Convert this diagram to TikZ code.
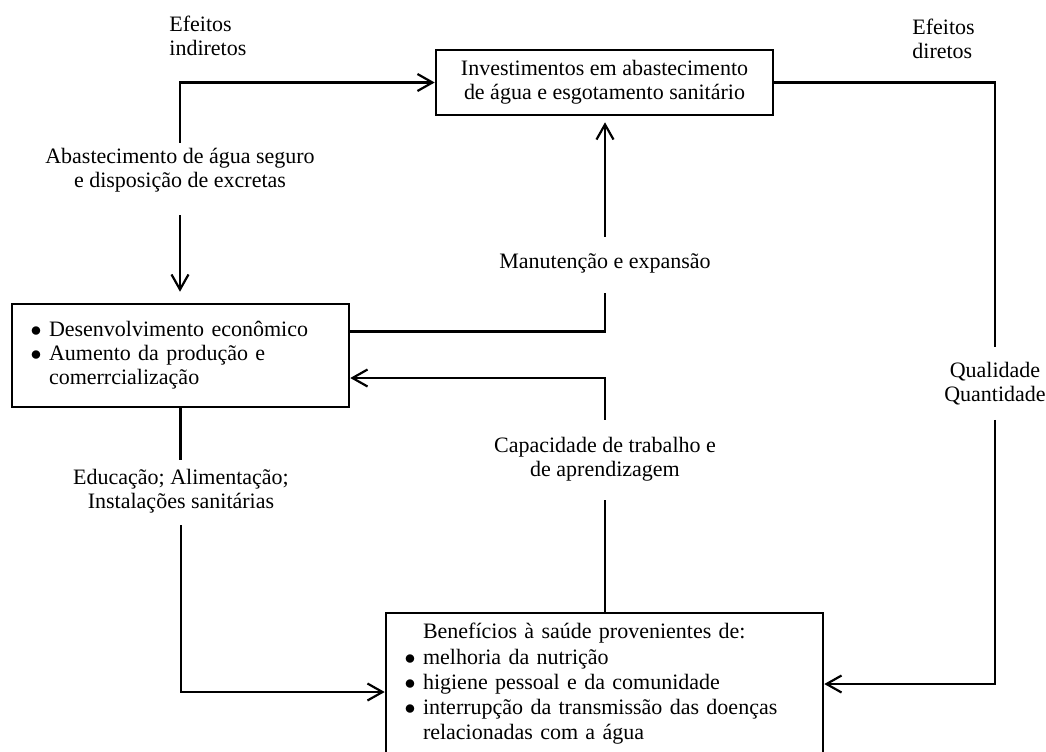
\documentclass[tikz,border=0pt]{standalone}
\usepackage{fontspec}
\setmainfont{Liberation Serif}
\usetikzlibrary{arrows.meta}
\newcommand{\bul}{\makebox[8pt][l]{\hspace*{-1.2pt}$\bullet$}}

\begin{document}
\begin{tikzpicture}[x=0.5pt,y=-0.5pt,
    font=\fontsize{11}{12}\selectfont,
    box/.style={draw, line width=1.3pt, inner sep=0pt},
    lbl/.style={inner sep=0pt, align=center},
    conn/.style={line width=1.1pt},
    arr/.style={conn, -{Straight Barb[length=7.5pt,width=8.5pt]}}]
    \useasboundingbox (0,0) rectangle (1046,751);

    \node[box, minimum width=168.5pt, minimum height=32.5pt, align=center] (invest) at (604.5,82.5)
        {Investimentos em abastecimento\\de água e esgotamento sanitário};
    \node[box, minimum width=168.5pt, minimum height=51.5pt, text width=147.5pt, align=left] (desenv) at (180.5,355.5)
        {\bul Desenvolvimento econômico\\\bul Aumento da produção e\\\hspace*{8pt}comerrcialização};
    \node[box, minimum width=218.5pt, minimum height=71pt, text width=197.5pt, align=left,
        font=\fontsize{11}{12.6}\selectfont] (benef) at (604.5,684)
        {\hspace*{8pt}Benefícios à saúde provenientes de:\\\bul melhoria da nutrição\\\bul higiene pessoal e da comunidade\\\bul interrupção da transmissão das doenças\\\hspace*{8pt}relacionadas com a água};

    \node[lbl, align=left, anchor=west] (indir) at (169,36) {Efeitos\\indiretos};
    \node[lbl, align=left, anchor=west] (diret) at (912,39) {Efeitos\\diretos};
    \node[lbl] (abast) at (180,170) {Abastecimento de água seguro\\e disposição de excretas};
    \node[lbl] (manut) at (605,263) {Manutenção e expansão};
    \node[lbl] (capac) at (605,459) {Capacidade de trabalho e\\de aprendizagem};
    \node[lbl] (educ) at (181,491) {Educação; Alimentação;\\Instalações sanitárias};
    \node[lbl] (qual) at (995,384) {Qualidade\\Quantidade};

    \draw[arr, shorten <=2.5pt] (abast.north) |- (invest.west);
    \draw[arr, shorten <=11.5pt, shorten >=5.5pt] (abast.south) -- (abast.south |- desenv.north);
    \draw[conn, shorten >=10pt] ([yshift=12pt]desenv.east) -| (manut.south);
    \draw[arr, shorten <=8pt, shorten >=3pt] (manut.north) -- (manut.north |- invest.south);
    \draw[arr, shorten <=8.5pt] (capac.north) |- ([yshift=-11.25pt]desenv.east);
    \draw[conn, shorten <=9.5pt] (capac.south) -- (capac.south |- benef.north);
    \draw[conn, shorten >=4.5pt] (desenv.south) -- (desenv.south |- educ.north);
    \draw[arr, shorten <=6pt] (educ.south) |- ([yshift=-4pt]benef.west);
    \draw[conn, shorten >=7.5pt] (invest.east) -| (qual.north);
    \draw[arr, shorten <=7pt] (qual.south) |- (benef.east);
\end{tikzpicture}
\end{document}
